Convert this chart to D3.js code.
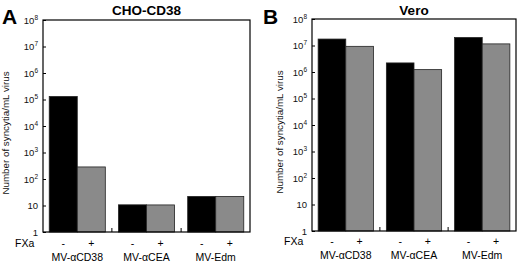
<!DOCTYPE html>
<html><head><meta charset="utf-8">
<script src="https://cdn.jsdelivr.net/npm/d3@7"></script>
<style>body{margin:0;background:#fff}svg{display:block;font-family:"Liberation Sans",Arial,sans-serif}</style>
</head><body><svg id="c" width="520" height="263"></svg>
<script>
const groups = ["MV-αCD38", "MV-αCEA", "MV-Edm"];
const treatments = ["-", "+"];
const choMinus = [130000, 10.6, 22];
const choPlus = [285, 10.5, 22];
const veroMinus = [17500000, 2200000, 20000000];
const veroPlus = [9300000, 1230000, 11500000];
const yExps = [0, 1, 2, 3, 4, 5, 6, 7, 8];

const panels = [
  {letter: "A", title: "CHO-CD38", minus: choMinus, plus: choPlus, x0: 43, x1: 250, y0: 20, y1: 232, lx: 2, ylx: 9, fxy: 247, cy: 261},
  {letter: "B", title: "Vero", minus: veroMinus, plus: veroPlus, x0: 312, x1: 516, y0: 19, y1: 231, lx: 263, ylx: 283, fxy: 245, cy: 259}
];
const svg = d3.select("#c");
panels.forEach(p => {
  const g = svg.append("g");
  const x = d3.scaleBand().domain(groups).range([p.x0, p.x1]).paddingInner(0.19).paddingOuter(0.09);
  const xs = d3.scaleBand().domain(treatments).range([0, x.bandwidth()]);
  const y = d3.scaleLog().domain([1, 1e8]).range([p.y1, p.y0]);
  groups.forEach((grp, i) => {
    const vals = [p.minus[i], p.plus[i]];
    treatments.forEach((t, j) => {
      g.append("rect")
        .attr("x", x(grp) + xs(t)).attr("width", xs.bandwidth())
        .attr("y", y(vals[j])).attr("height", p.y1 - y(vals[j]))
        .attr("fill", j === 0 ? "#000" : "#8a8a8a")
        .attr("stroke", "#222").attr("stroke-width", 0.8);
    });
  });
  g.append("rect").attr("x", p.x0).attr("y", p.y0).attr("width", p.x1 - p.x0).attr("height", p.y1 - p.y0)
    .attr("fill", "none").attr("stroke", "#000").attr("stroke-width", 1.2);
  const ya = d3.axisRight(y).tickValues(yExps.map(e => Math.pow(10, e))).tickSize(3).tickFormat("");
  const ag = g.append("g").attr("transform", `translate(${p.x0},0)`).call(ya);
  ag.select(".domain").remove();
  ag.selectAll("line").attr("stroke", "#000");
  yExps.forEach(e => {
    const t = g.append("text").attr("x", p.x0 - 5).attr("y", y(Math.pow(10, e)) + 3.5)
      .attr("text-anchor", "end").attr("font-size", 9.5).attr("fill", "#111");
    if (e === 0) t.text("1");
    else if (e === 1) t.text("10");
    else { t.append("tspan").text("10"); t.append("tspan").attr("dy", -4).attr("font-size", 6.5).text(String(e)); }
  });
  for (let i = 1; i < groups.length; i++) {
    const mx = (x(groups[i - 1]) + x.bandwidth() + x(groups[i])) / 2;
    g.append("line").attr("x1", mx).attr("x2", mx).attr("y1", p.y1).attr("y2", p.y1 - 4).attr("stroke", "#000");
  }
  g.append("text").attr("x", p.lx).attr("y", 24).attr("font-size", 21).attr("font-weight", "bold").text(p.letter);
  g.append("text").attr("x", (p.x0 + p.x1) / 2).attr("y", 15).attr("text-anchor", "middle")
    .attr("font-size", 13.5).attr("font-weight", "bold").text(p.title);
  g.append("text").attr("transform", `translate(${p.ylx},${(p.y0 + p.y1) / 2 + 7}) rotate(-90)`)
    .attr("text-anchor", "middle").attr("font-size", 9.8).attr("fill", "#111").text("Number of syncytia/mL virus");
  g.append("text").attr("x", p.x0 - 28).attr("y", p.fxy).attr("font-size", 10.5).text("FXa");
  groups.forEach(grp => {
    treatments.forEach(t => {
      g.append("text").attr("x", x(grp) + xs(t) + xs.bandwidth() / 2).attr("y", p.fxy)
        .attr("text-anchor", "middle").attr("font-size", 10.5).text(t);
    });
    g.append("text").attr("x", x(grp) + x.bandwidth() / 2).attr("y", p.cy)
      .attr("text-anchor", "middle").attr("font-size", 10.5).text(grp);
  });
});
</script></body></html>
